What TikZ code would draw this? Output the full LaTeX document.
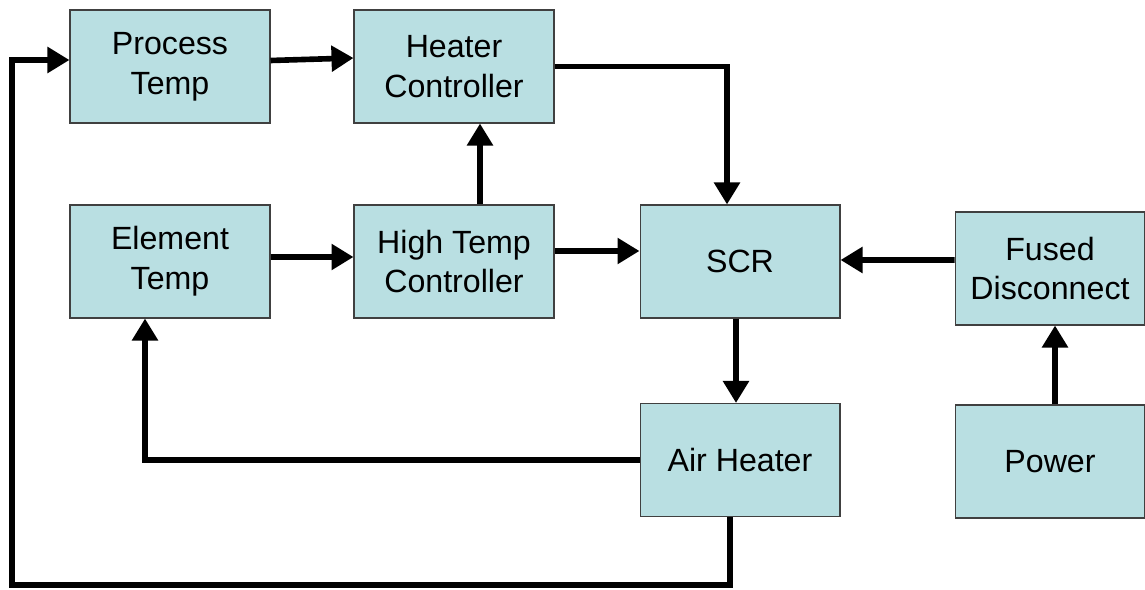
\documentclass[tikz,border=0pt]{standalone}
\usepackage{fontspec}
\setmainfont{Liberation Sans}
\usepackage{xcolor}
\usetikzlibrary{arrows.meta, positioning, calc}
\definecolor{blockfill}{HTML}{B9DFE2}
\definecolor{blockedge}{HTML}{404040}

\begin{document}
\begin{tikzpicture}[
    x=0.02cm, y=-0.02cm,
    every node/.style={font=\fontsize{18.3pt}{22.7pt}\selectfont},
    block/.style={rectangle, draw=blockedge, fill=blockfill, line width=0.6pt, minimum width=4cm, minimum height=2.26cm, align=center, inner sep=0pt},
    arrow/.style={-{Triangle[length=0.44cm, width=0.5cm]}, line width=3.2pt}
]
\useasboundingbox (0,0) rectangle (1145,590);

% Controllers
\node[block] (proc) at (170, 66.5) {Process\\Temp};
\node[block] (heatctl) at (454, 66.5) {Heater\\Controller};
\node[block] (elem) at (170, 261.5) {Element\\Temp};
\node[block] (hictl) at (454, 261.5) {High Temp\\Controller};

% Power side
\node[block] (scr) at (740, 261.5) {SCR};
\node[block] (air) at (740, 460) {Air Heater};
\node[block, minimum width=3.8cm] (fused) at (1050, 268.5) {Fused\\Disconnect};
\node[block, minimum width=3.8cm] (power) at (1050, 461.5) {Power};

% Return path corner
\coordinate (loop) at (12, 585);

% Arrows
\draw[arrow] ([yshift=0.12cm]proc.east) -- ([yshift=0.17cm]heatctl.west);
\draw[arrow] (heatctl.east) -| ([xshift=-0.26cm]scr.north);
\draw[arrow] ([xshift=0.52cm]hictl.north) -- ([xshift=0.52cm]heatctl.south);
\draw[arrow] ([yshift=0.09cm]elem.east) -- ([yshift=0.09cm]hictl.west);
\draw[arrow] ([yshift=0.21cm]hictl.east) -- ([yshift=0.21cm]scr.west);
\draw[arrow] ([yshift=0.17cm]fused.west) -- ([yshift=0.03cm]scr.east);
\draw[arrow] ([xshift=0.1cm]power.north) -- ([xshift=0.1cm]fused.south);
\draw[arrow] ([xshift=-0.08cm]scr.south) -- ([xshift=-0.08cm]air.north);
\draw[arrow] (air.west) -| ([xshift=-0.5cm]elem.south);
\draw[arrow] ([xshift=-0.2cm]air.south) |- (loop) |- ([yshift=0.13cm]proc.west);

\end{tikzpicture}
\end{document}
